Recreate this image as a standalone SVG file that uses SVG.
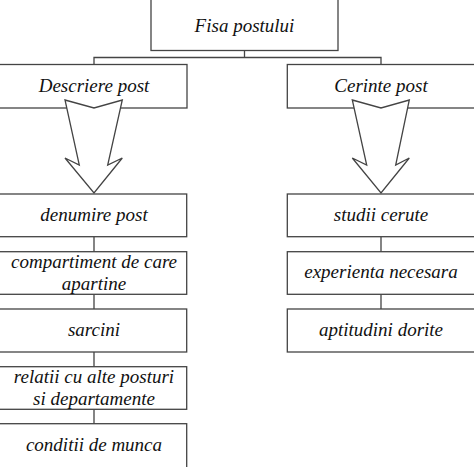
<svg xmlns="http://www.w3.org/2000/svg" width="474" height="467" viewBox="0 0 474 467">
<defs>
<rect id="bx" width="10" height="10"/>
</defs>
<rect width="474" height="467" fill="#fff"/>
<g id="connectors" fill="none" stroke="#444" stroke-width="1.3">
<path d="M244.5 50.5V57.5M94 64.5V57.5H381V64.5"/>
<path d="M94 236.7V251.7M94 294.3V309M94 352V366.7M94 409.3V423.7"/>
<path d="M381 236.7V251.7M381 294.3V309"/>
</g>
<g id="boxes" fill="#fff" stroke="#444" stroke-width="1.3">
<rect id="fisa" x="151" y="-2" width="187" height="52.5"/>
<rect id="descriere" x="-2" y="64.5" width="189" height="43.5"/>
<rect id="cerinte" x="287.3" y="64.5" width="190" height="43.5"/>
<polygon id="arrow-left" points="65,100 94,108 122.3,100 107.7,165 122.3,158 94,193 65,158 79.3,165"/>
<polygon id="arrow-right" points="352.3,100 381,108 409.3,100 395.7,165 409.3,158 381,193 352.3,158 366.7,165"/>
<rect id="denumire" x="-2" y="194" width="188.7" height="42.7"/>
<rect id="compartiment" x="-2" y="251.7" width="188.7" height="42.6"/>
<rect id="sarcini" x="-2" y="309" width="188.7" height="43"/>
<rect id="relatii" x="-2" y="366.7" width="188.7" height="42.6"/>
<rect id="conditii" x="-2" y="423.7" width="188.7" height="50"/>
<rect id="studii" x="287.3" y="194" width="190" height="42.7"/>
<rect id="experienta" x="287.3" y="251.7" width="190" height="42.6"/>
<rect id="aptitudini" x="287.3" y="309" width="190" height="43"/>
</g>
<g id="labels" font-family="Liberation Serif" font-style="italic" font-size="19" fill="#111" text-anchor="middle">
<text x="244.5" y="32">Fisa postului</text>
<text x="94" y="92">Descriere post</text>
<text x="381" y="92">Cerinte post</text>
<text x="94" y="221">denumire post</text>
<text x="94" y="268">compartiment de care</text>
<text x="94" y="290">apartine</text>
<text x="94" y="336">sarcini</text>
<text x="94" y="383">relatii cu alte posturi</text>
<text x="94" y="405">si departamente</text>
<text x="94" y="451">conditii de munca</text>
<text x="381" y="221">studii cerute</text>
<text x="381" y="278">experienta necesara</text>
<text x="381" y="336">aptitudini dorite</text>
</g>
</svg>
